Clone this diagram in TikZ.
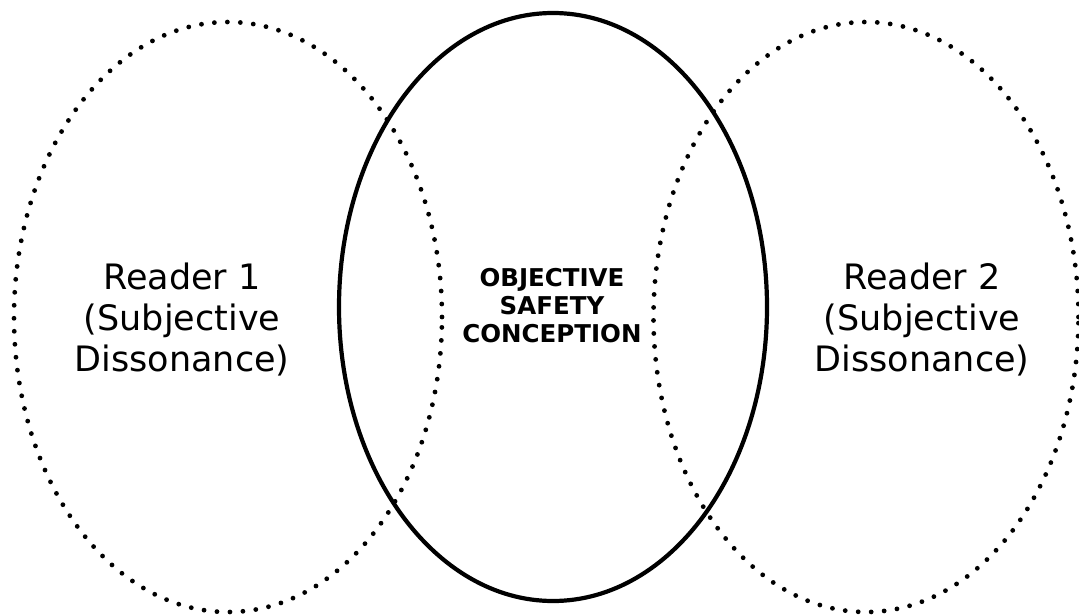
\documentclass[tikz,border=0pt]{standalone}
\usepackage{fontspec}
\setmainfont{DejaVu Sans}
\usetikzlibrary{shapes.geometric}
\begin{document}
\begin{tikzpicture}[x=1pt,y=-1pt,
  oval/.style={ellipse, inner sep=0pt, outer sep=0pt, minimum width=#1},
  dotted oval/.style={draw, line width=4.8pt, line cap=round, dash pattern=on 0pt off 13pt},
  solid oval/.style={draw, line width=4.2pt},
  reader/.style={align=center, font=\fontsize{35}{41}\selectfont},
  core/.style={align=center, font=\fontsize{24.5}{28}\selectfont\bfseries}]
  \useasboundingbox (0,0) rectangle (1079,615);
  % reader ellipses (dotted) and the shared conception (solid)
  \node[oval=428pt, minimum height=590pt, dotted oval] (r1) at (228,317) {};
  \node[oval=425pt, minimum height=590pt, dotted oval] (r2) at (866,317) {};
  \node[oval=428pt, minimum height=588pt, solid oval] (obj) at (553,307) {};
  % labels
  \node[reader] (t1) at (182,320) {Reader 1\\(Subjective\\Dissonance)};
  \node[reader] (t2) at (922,320) {Reader 2\\(Subjective\\Dissonance)};
  \node[core] (t0) at (552,306) {OBJECTIVE\\SAFETY\\CONCEPTION};
\end{tikzpicture}
\end{document}
